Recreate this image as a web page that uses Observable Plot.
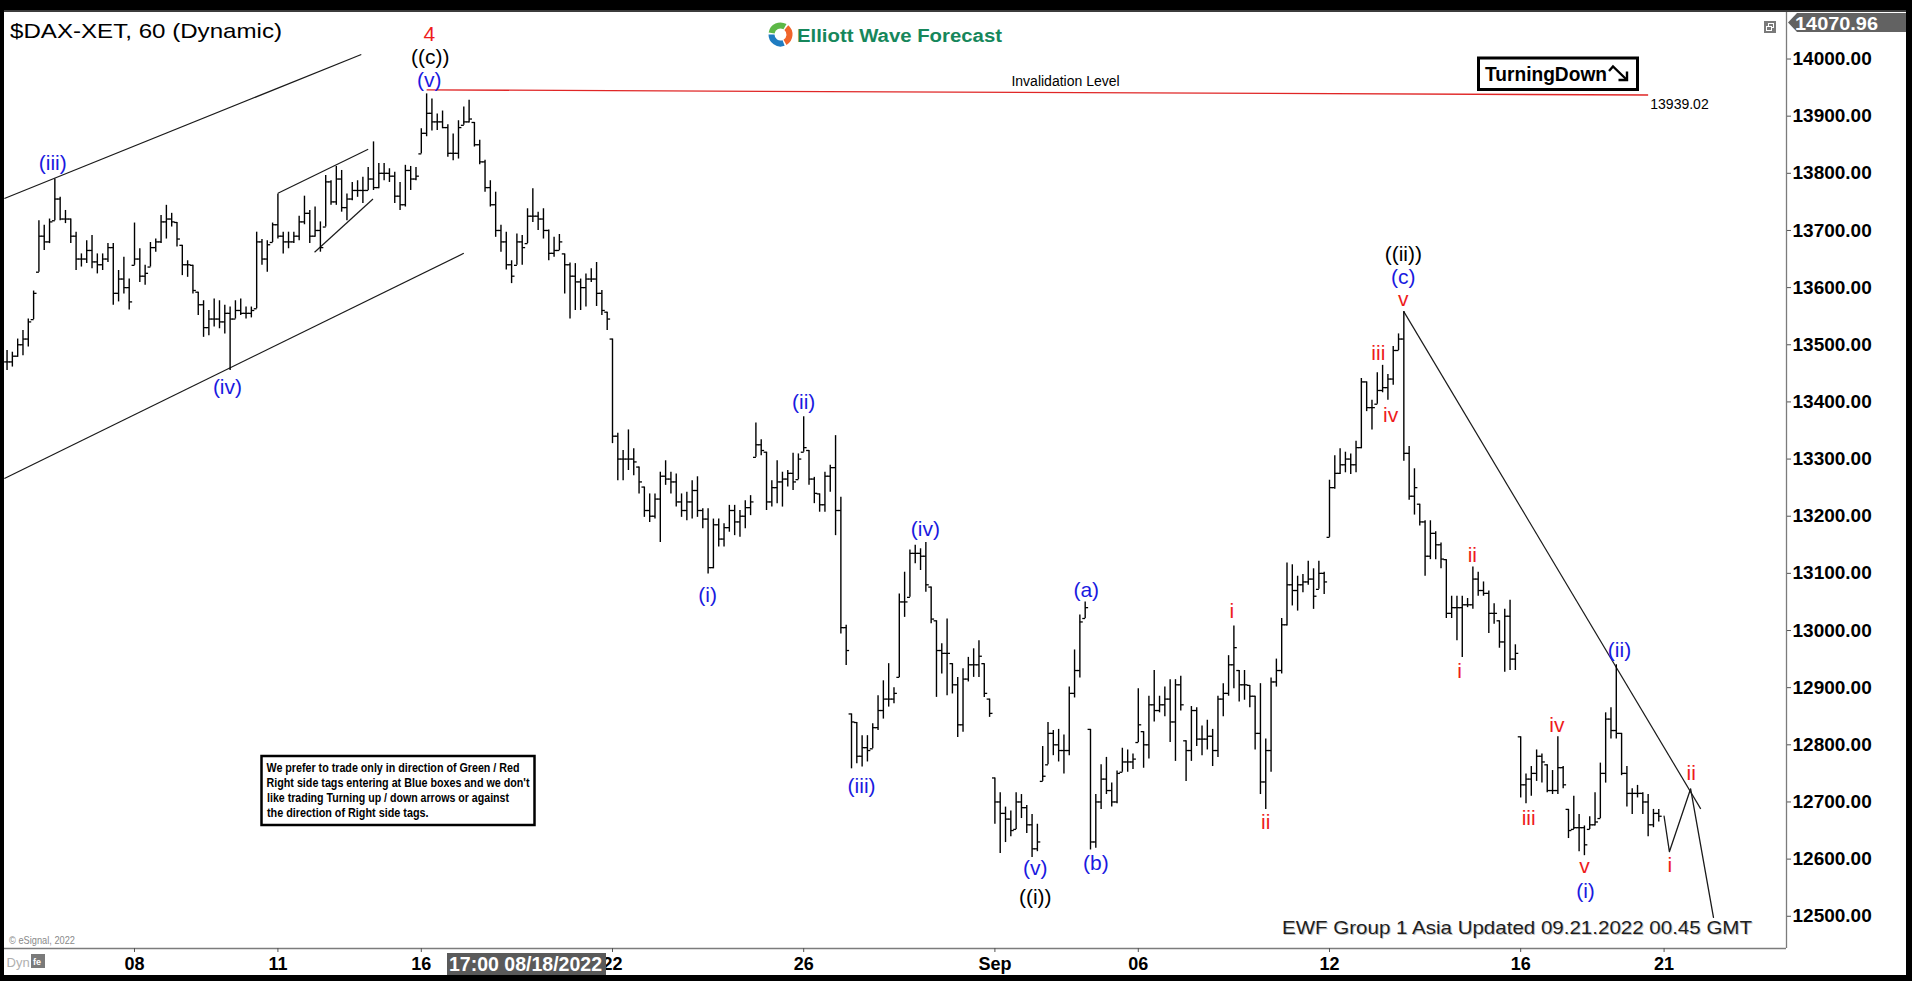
<!DOCTYPE html>
<html>
<head>
<meta charset="utf-8">
<script src="https://cdn.jsdelivr.net/npm/d3@7"></script>
<script src="https://cdn.jsdelivr.net/npm/@observablehq/plot@0.6"></script>
<style>
  html, body { margin:0; padding:0; background:#000; }
  #wrap { position:relative; width:1912px; height:981px; overflow:hidden; background:#000; }
  #paper { position:absolute; left:4px; top:12px; width:1902px; height:963px; background:#fff; }
  #strip { position:absolute; left:4px; top:10px; width:1902px; height:2px; background:#3c3c3c; }
  #chart, #deco { position:absolute; left:0; top:0; }
  #deco { pointer-events:none; }
  text { font-family: Arial, "Liberation Sans", Helvetica, sans-serif; }
</style>
</head>
<body>
<div id="wrap">
  <div id="strip"></div>
  <div id="paper"></div>
  <div id="chart"></div>
  <svg id="deco" width="1912" height="981" xmlns="http://www.w3.org/2000/svg">
    <text x="10" y="37.5" font-size="21" fill="#000" textLength="272" lengthAdjust="spacingAndGlyphs">$DAX-XET, 60 (Dynamic)</text>
    <g fill="none" stroke-width="6">
      <path d="M771.6,32.9 A9,9 0 0 1 785,26.7" stroke="#5db847"/>
      <path d="M786.3,27.6 A9,9 0 0 1 785,42.3" stroke="#f0642a"/>
      <path d="M783.6,43 A9,9 0 0 1 771.5,34.5" stroke="#1f7cc1"/>
    </g>
    <text x="797" y="41.5" font-size="18" font-weight="bold" fill="#16875b" textLength="205" lengthAdjust="spacingAndGlyphs">Elliott Wave Forecast</text>
    <rect x="1764" y="21" width="12" height="12" fill="#7a7a7a"/>
    <rect x="1768.5" y="23.5" width="5" height="4" fill="none" stroke="#fff" stroke-width="1"/>
    <rect x="1766.5" y="26.5" width="5" height="4" fill="#7a7a7a" stroke="#fff" stroke-width="1"/>
    <polygon points="1788,22.5 1797,13 1906,13 1906,32 1797,32" fill="#626262"/>
    <text x="1795" y="29.5" font-size="18" font-weight="bold" fill="#fff" textLength="83" lengthAdjust="spacingAndGlyphs">14070.96</text>
    <rect x="1478.5" y="58" width="159" height="31.5" fill="#fff" stroke="#000" stroke-width="3"/>
    <text x="1485" y="81" font-size="21" font-weight="bold" fill="#000" textLength="122" lengthAdjust="spacingAndGlyphs">TurningDown</text>
    <polyline points="1609,71 1613,66.5 1627,80" fill="none" stroke="#000" stroke-width="2.4"/>
    <polyline points="1618.5,80 1627,80 1627,71.5" fill="none" stroke="#000" stroke-width="2.4"/>
    <rect x="261.5" y="756" width="273" height="69" fill="#fff" stroke="#000" stroke-width="2.5"/>
    <g font-size="12" font-weight="bold" fill="#000">
      <text x="266.5" y="772" textLength="253" lengthAdjust="spacingAndGlyphs">We prefer to trade only in direction of Green / Red</text>
      <text x="266.5" y="787" textLength="263" lengthAdjust="spacingAndGlyphs">Right side tags entering at Blue boxes and we don't</text>
      <text x="267" y="802" textLength="242" lengthAdjust="spacingAndGlyphs">like trading Turning up / down arrows or against</text>
      <text x="267" y="817" textLength="161.5" lengthAdjust="spacingAndGlyphs">the direction of Right side tags.</text>
    </g>
    <text x="9" y="943.5" font-size="11" fill="#8a8a8a" textLength="66" lengthAdjust="spacingAndGlyphs">© eSignal, 2022</text>
    <text x="6.5" y="967" font-size="13" fill="#b0b0b0">Dyn</text>
    <rect x="31" y="954" width="14" height="14" fill="#7a7a7a"/>
    <text x="33" y="965" font-size="9" font-weight="bold" fill="#fff">fe</text>
    <rect x="447" y="953" width="159" height="22" fill="#5a5a5a"/>
    <text x="449" y="971" font-size="20" font-weight="bold" fill="#fff" textLength="153" lengthAdjust="spacingAndGlyphs">17:00 08/18/2022</text>
    <text x="1283" y="935" font-size="19" fill="#c4c4c4" textLength="470" lengthAdjust="spacingAndGlyphs">EWF Group 1 Asia Updated 09.21.2022 00.45 GMT</text>
    <text x="1282" y="934" font-size="19" fill="#1e1e1e" textLength="470" lengthAdjust="spacingAndGlyphs">EWF Group 1 Asia Updated 09.21.2022 00.45 GMT</text>
  </svg>
</div>
<script>
// ---- DATA (hourly bars, index 0 = first bar of Aug 8; 9 bars per trading day) ----
const barStart = -24;

const barHigh = [
  13490,13487,13510,13525,13545,13594,                         // Aug 3 (partial)
  13717,13709,13720,13790,13758,13735,13720,13697,13659,       // Aug 4
  13682,13691,13659,13659,13677,13677,13630,13653,13615,       // Aug 5
  13713,13668,13639,13679,13685,13726,13744,13730,13714,       // Aug 8
  13674,13647,13639,13592,13577,13560,13580,13577,13569,       // Aug 9
  13566,13577,13580,13566,13566,13697,13684,13682,13713,       // Aug 10
  13764,13697,13697,13697,13725,13760,13735,13741,13715,       // Aug 11
  13796,13787,13812,13805,13764,13784,13787,13793,13810,       // Aug 12
  13855,13817,13817,13808,13802,13784,13814,13812,13810,       // Aug 15
  13878,13939,13930,13904,13909,13885,13869,13892,13916,       // Aug 16
  13928,13889,13858,13823,13787,13767,13709,13697,13647,       // Aug 17
  13694,13691,13738,13773,13732,13738,13701,13688,13693,       // Aug 18
  13659,13643,13642,13615,13624,13633,13644,13595,13557,       // Aug 19
  13510,13345,13315,13351,13318,13286,13251,13239,13239,       // Aug 22
  13277,13297,13277,13274,13239,13242,13262,13269,13213,       // Aug 23
  13213,13195,13195,13187,13219,13219,13210,13227,13236,       // Aug 24
  13363,13334,13312,13262,13297,13277,13280,13310,13309,       // Aug 25
  13374,13315,13268,13239,13277,13289,13341,13233,13009,       // Aug 26
  12854,12839,12816,12816,12837,12886,12912,12942,12900,       // Aug 29
  13064,13102,13141,13149,13143,13154,13076,13017,12977,       // Aug 30
  13020,12942,12918,12933,12953,12968,12982,12942,12880,       // Aug 31
  12742,12716,12691,12684,12716,12713,12694,12678,12661,       // Sep 1
  12797,12839,12825,12827,12817,12901,12966,13027,13050,       // Sep 2
  12827,12713,12765,12778,12733,12754,12794,12791,12784,       // Sep 5
  12898,12823,12885,12930,12885,12901,12914,12914,12920,       // Sep 6
  12807,12867,12865,12833,12843,12827,12885,12907,12956,       // Sep 7
  13008,12930,12930,12904,12885,12907,12810,12917,12950,       // Sep 8
  13021,13118,13115,13095,13098,13121,13108,13121,13102,       // Sep 9
  13263,13306,13318,13312,13309,13331,13441,13435,13403,       // Sep 12
  13451,13464,13448,13497,13519,13558,13322,13283,13221,       // Sep 13
  13192,13192,13173,13153,13124,13060,13060,13060,13056,       // Sep 14
  13111,13102,13085,13069,13047,13017,13037,13053,12975,       // Sep 15
  12814,12749,12762,12791,12784,12765,12755,12814,12762,       // Sep 16
  12687,12710,12678,12658,12674,12716,12768,12856,12865,       // Sep 19
  12940,12820,12762,12723,12729,12716,12713,12687,12687        // Sep 20
];

const barLow = [
  13455,13461,13478,13481,13496,13544,
  13627,13665,13677,13717,13717,13712,13677,13630,13636,
  13642,13633,13624,13630,13644,13569,13575,13589,13561,
  13639,13609,13604,13636,13662,13677,13685,13706,13671,
  13621,13618,13589,13551,13513,13516,13531,13528,13519,
  13455,13545,13551,13545,13547,13563,13639,13627,13679,
  13685,13659,13668,13677,13682,13710,13677,13688,13662,
  13706,13744,13744,13732,13717,13752,13758,13747,13770,
  13770,13773,13787,13784,13747,13735,13741,13770,13787,
  13834,13864,13874,13875,13878,13828,13822,13825,13884,
  13888,13846,13815,13767,13741,13688,13662,13631,13607,
  13639,13639,13677,13714,13700,13685,13647,13653,13665,
  13589,13545,13560,13560,13566,13609,13567,13551,13525,
  13327,13262,13262,13280,13271,13239,13198,13189,13195,
  13154,13254,13239,13216,13198,13192,13195,13198,13178,
  13099,13108,13146,13146,13172,13166,13163,13178,13201,
  13303,13306,13210,13216,13222,13216,13251,13245,13264,
  13312,13254,13222,13207,13207,13242,13166,12994,12939,
  12758,12767,12761,12770,12793,12825,12845,12866,12872,
  12918,13023,13058,13117,13105,13067,13012,12883,12924,
  12886,12889,12813,12822,12910,12918,12918,12883,12848,
  12661,12610,12629,12639,12652,12671,12645,12603,12613,
  12736,12765,12781,12770,12749,12781,12882,12917,13021,
  12616,12619,12687,12713,12691,12697,12752,12752,12757,
  12804,12759,12775,12840,12856,12849,12804,12771,12859,
  12736,12771,12797,12781,12791,12762,12778,12849,12885,
  12898,12875,12878,12865,12791,12713,12687,12752,12901,
  12924,13008,13043,13034,13066,13079,13037,13072,13063,
  13163,13247,13273,13276,13273,13276,13318,13383,13351,
  13396,13416,13403,13429,13490,13296,13228,13202,13183,
  13095,13124,13124,13108,13021,13021,12982,12953,13040,
  13037,13060,13060,12995,13011,12969,12927,12930,12930,
  12707,12697,12710,12736,12733,12716,12713,12713,12723,
  12636,12652,12613,12606,12652,12658,12671,12733,12810,
  12810,12746,12691,12678,12707,12678,12639,12655,12665
];

const barClose = [
  13470,13480,13500,13510,13540,13590,
  13690,13680,13715,13755,13720,13720,13690,13650,13650,
  13665,13645,13640,13650,13670,13590,13615,13600,13575,
  13650,13620,13625,13670,13680,13715,13720,13715,13685,
  13640,13640,13595,13570,13530,13545,13545,13540,13555,
  13545,13560,13555,13555,13560,13680,13650,13675,13710,
  13690,13680,13680,13690,13715,13730,13690,13700,13670,
  13785,13750,13790,13740,13755,13770,13770,13770,13790,
  13775,13800,13800,13795,13760,13745,13805,13790,13795,
  13870,13905,13890,13890,13880,13835,13835,13880,13890,
  13895,13850,13820,13775,13745,13700,13680,13640,13620,
  13680,13670,13725,13725,13720,13700,13660,13665,13680,
  13640,13620,13610,13600,13615,13615,13590,13560,13545,
  13340,13300,13300,13300,13295,13260,13210,13200,13230,
  13270,13265,13260,13225,13210,13225,13245,13210,13195,
  13110,13185,13160,13180,13210,13190,13200,13215,13225,
  13325,13315,13225,13250,13260,13265,13275,13260,13300,
  13320,13265,13240,13220,13270,13285,13210,13005,12965,
  12840,12780,12795,12790,12830,12860,12880,12880,12890,
  13050,13050,13135,13135,13130,13080,13020,12965,12960,
  12960,12905,12835,12915,12940,12940,12955,12890,12855,
  12700,12680,12670,12650,12700,12690,12660,12618,12630,
  12745,12820,12800,12790,12790,12890,12930,13015,13040,
  12630,12700,12740,12720,12700,12750,12770,12770,12775,
  12835,12800,12870,12860,12870,12880,12840,12905,12870,
  12790,12860,12810,12810,12815,12790,12880,12890,12940,
  12970,12905,12905,12885,12820,12735,12790,12910,12930,
  13010,13080,13070,13080,13085,13090,13060,13100,13085,
  13250,13275,13290,13300,13290,13320,13435,13390,13390,
  13420,13425,13440,13490,13510,13310,13235,13250,13190,
  13130,13170,13150,13125,13030,13040,13040,13045,13045,
  13090,13070,13065,13030,13030,12980,13025,12950,12960,
  12730,12740,12750,12780,12770,12720,12720,12760,12730,
  12650,12655,12655,12625,12660,12665,12750,12845,12825,
  12820,12750,12715,12715,12715,12700,12660,12680,12675
];

// price axis ticks (right side)
const priceTicks = [12500,12600,12700,12800,12900,13000,13100,13200,13300,13400,13500,13600,13700,13800,13900,14000];
// date axis: bar index of each labelled session start, and its label
const dateTickBars   = [0, 27, 54, 90, 126, 162, 189, 225, 261, 288];
const dateTickLabels = ["08","11","16","22","26","Sep","06","12","16","21"];

// Elliott wave labels: text, bar index, price, degree
const waveText   = ["4","((c))","(v)","(iii)","(iv)","(i)","(ii)","(iii)","(iv)","(v)","((i))","(a)","(b)","i","ii","iii","iv","v","(c)","((ii))","i","ii","iii","iv","v","(i)","(ii)","i","ii"];
const waveBar    = [55.5,55.7,55.5,-15.4,17.5,107.9,126.0,136.9,148.9,169.6,169.6,179.2,181.0,206.6,213.0,234.2,236.5,238.9,238.9,238.9,249.5,251.9,262.5,267.8,273.0,273.2,279.6,289.1,293.1];
const wavePrice  = [14043,14003,13963,13817,13425,13061,13399,12727,13177,12584,12534,13070,12592,13033,12664,13486,13376,13580,13618,13659,12929,13131,12671,12834,12588,12543,12965,12589,12750];
const waveDegree = ["red","black","blue","blue","blue","blue","blue","blue","blue","blue","black","blue","blue","red","red","red","red","red","blue","black","red","red","red","red","red","blue","blue","red","red"];

// trend / channel lines (bar index, price)
const lineX1 = [-24.5, -24.5, 27.0, 33.9, 239.0];
const lineY1 = [13756, 13266, 13765, 13662, 13558];
const lineX2 = [42.7,  62.0,  44.0, 44.9, 294.9];
const lineY2 = [14008, 13660, 13842, 13755, 12688];

// projected path
const projBar   = [288.0, 289.0, 293.0, 297.3];
const projPrice = [12675, 12613, 12723, 12498];

// invalidation level
const invalidLevel = 13939.02;
const invalidBars = [55, 285];
const invalidPrices = [13946, 13937];

// ---- BUILD ----
const bars = barHigh.map((hi, k) => {
  const lo = barLow[k], cl = barClose[k];
  const prev = k > 0 ? barClose[k - 1] : cl;
  return {i: barStart + k, hi, lo, cl, op: Math.max(lo, Math.min(hi, prev))};
});
const waves = waveText.map((t, k) => ({t, i: waveBar[k], p: wavePrice[k], deg: waveDegree[k]}));
const segs = lineX1.map((x1, k) => ({x1, y1: lineY1[k], x2: lineX2[k], y2: lineY2[k]}));
const proj = projBar.map((i, k) => ({i, p: projPrice[k]}));
const tickLabel = new Map(dateTickBars.map((b, k) => [b, dateTickLabels[k]]));

const xDom = [-24.48, 311.05];
const yDom = [12443.6, 14081.4];
const font = "Arial, 'Liberation Sans', Helvetica, sans-serif";
const colors = {red: "#ee1c1c", blue: "#1a1ae0", black: "#000"};

const chart = Plot.plot({
  width: 1912, height: 981,
  marginLeft: 4, marginRight: 126, marginTop: 12, marginBottom: 33,
  x: {domain: xDom, axis: null},
  y: {domain: yDom, axis: null},
  style: {background: "transparent", fontFamily: font, overflow: "visible"},
  marks: [
    Plot.ruleX([xDom[1]], {y1: yDom[0], y2: yDom[1], stroke: "#7c7c7c", strokeWidth: 1.3}),
    Plot.ruleY([yDom[0]], {x1: xDom[0], x2: xDom[1], stroke: "#7c7c7c", strokeWidth: 1.3}),
    Plot.axisY(priceTicks, {anchor: "right", tickSize: 4, tickPadding: 2, stroke: "#555",
      tickFormat: d => d.toFixed(2), fontSize: 19, fontWeight: "bold", label: null}),
    Plot.axisX(dateTickBars, {anchor: "bottom", tickSize: 4, tickPadding: 5, stroke: "#555",
      tickFormat: d => tickLabel.get(d), fontSize: 18, fontWeight: "bold", label: null}),
    // invalidation level
    Plot.link([0], {x1: () => invalidBars[0], x2: () => invalidBars[1], y1: () => invalidPrices[0], y2: () => invalidPrices[1],
      stroke: "#e02626", strokeWidth: 1.3}),
    Plot.text(["Invalidation Level"], {x: () => 175.3, y: () => 13961, text: d => d, fontSize: 14, fill: "#000"}),
    Plot.text([invalidLevel], {x: () => 285.4, y: () => 13920, text: d => d.toFixed(2), fontSize: 14, textAnchor: "start", fill: "#000"}),
    // channel, wedge and trend lines
    Plot.link(segs, {x1: "x1", y1: "y1", x2: "x2", y2: "y2", stroke: "#1a1a1a", strokeWidth: 1.2}),
    Plot.line(proj, {x: "i", y: "p", stroke: "#1a1a1a", strokeWidth: 1.3}),
    // OHLC bars
    Plot.ruleX(bars, {x: "i", y1: "lo", y2: "hi", stroke: "#000", strokeWidth: 1.4}),
    Plot.link(bars, {x1: d => d.i - 0.55, x2: "i", y1: "op", y2: "op", stroke: "#000", strokeWidth: 1.3}),
    Plot.link(bars, {x1: "i", x2: d => d.i + 0.55, y1: "cl", y2: "cl", stroke: "#000", strokeWidth: 1.3}),
    // wave labels
    ...["red", "blue", "black"].map(c => Plot.text(waves.filter(w => w.deg === c),
      {x: "i", y: "p", text: "t", fill: colors[c], fontSize: 21}))
  ]
});
document.getElementById("chart").appendChild(chart);
</script>
</body>
</html>
